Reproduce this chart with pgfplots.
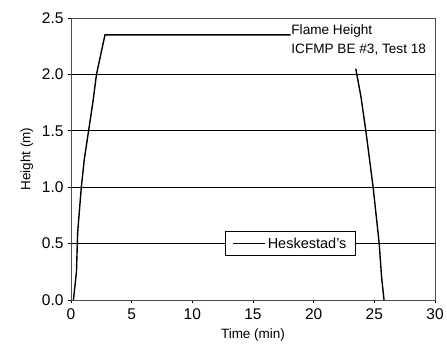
\documentclass[border=0pt]{standalone}
\usepackage{fontspec}
\setmainfont{Liberation Sans}
\usepackage{pgfplots}
\pgfplotsset{compat=1.18}
\usetikzlibrary{calc}
\begin{document}
\begin{tikzpicture}
\begin{axis}[
  scale only axis,
  width=364pt, height=282pt,
  xmin=0, xmax=30, ymin=0, ymax=2.5,
  xtick={0,5,...,30},
  ytick={0,0.5,...,2.5},
  yticklabel style={xshift=-1pt, /pgf/number format/.cd,fixed,fixed zerofill,precision=1},
  /pgf/number format/assume math mode=true,
  tick align=outside,
  xtick pos=bottom, ytick pos=left,
  major tick length=3pt,
  ymajorgrids,
  grid style={black, line width=0.7pt},
  axis line style={black!70, line width=0.7pt},
  tick style={black, line width=0.7pt},
  ticklabel style={font=\fontsize{15.5}{17}\selectfont},
  xticklabel style={yshift=-2pt},
  xlabel={Time (min)},
  ylabel={Height (m)},
  label style={font=\fontsize{13.5}{15}\selectfont},
  xlabel style={yshift=-2pt},
  ylabel style={yshift=2pt},
  unbounded coords=jump,
  legend style={at={(axis cs:18.1,0.5)}, anchor=center, draw=black,
    line width=0.7pt, font=\fontsize{14.5}{16}\selectfont,
    inner xsep=7pt, inner ysep=4pt},
  legend cell align=left,
  legend image code/.code={\draw[#1, line width=1pt] (0pt,0pt) -- (32pt,0pt);},
]
\addplot[black, line width=1.4pt] table {
x y
0.2 0.0
0.45 0.25
0.55 0.6
0.85 1.0
1.1 1.25
1.45 1.5
1.8 1.75
2.1 2.0
2.3 2.1
2.8 2.35
18.1 2.35
nan nan
23.47 2.05
23.9 1.8
24.3 1.5
24.9 1.0
25.2 0.7
25.4 0.5
25.6 0.2
25.8 0.0
};
\addlegendentry{Heskestad's}
\node[anchor=north west, align=left, inner sep=0pt,
  font=\fontsize{13.6}{19}\selectfont] at (axis cs:18.15,2.44)
  {Flame Height\\ICFMP BE \#3, Test 18};
\end{axis}
\pgfresetboundingbox
\path ($(current axis.south west)+(-71pt,-49pt)$) rectangle ($(current axis.north east)+(12pt,18pt)$);
\end{tikzpicture}
\end{document}
